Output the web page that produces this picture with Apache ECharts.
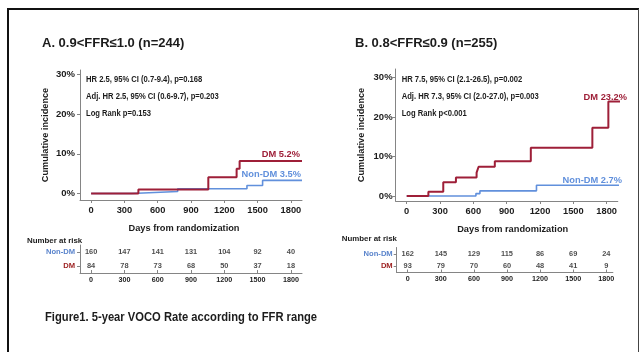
<!DOCTYPE html>
<html><head><meta charset="utf-8">
<script src="https://cdn.jsdelivr.net/npm/echarts@6/dist/echarts.min.js"></script>
<style>html,body{margin:0;padding:0;background:#fff}#c{width:639px;height:352px}</style>
</head><body><div id="c"></div>
<script>
// ---- data ----
const dayTicks = [0, 300, 600, 900, 1200, 1500, 1800];
const yTicks = [0, 10, 20, 30];
const groups = ['Non-DM', 'DM'];

const titleA = 'A. 0.9<FFR≤1.0 (n=244)';
const titleB = 'B. 0.8<FFR≤0.9 (n=255)';
const statsA = ['HR 2.5, 95% CI (0.7-9.4), p=0.168', 'Adj. HR 2.5, 95% CI (0.6-9.7), p=0.203', 'Log Rank p=0.153'];
const statsB = ['HR 7.5, 95% CI (2.1-26.5), p=0.002', 'Adj. HR 7.3, 95% CI (2.0-27.0), p=0.003', 'Log Rank p<0.001'];
const endLabelsA = ['DM 5.2%', 'Non-DM 3.5%'];
const endLabelsB = ['DM 23.2%', 'Non-DM 2.7%'];
const caption = 'Figure1. 5-year VOCO Rate according to FFR range';
const xName = 'Days from randomization';
const yName = 'Cumulative incidence';
const riskTitle = 'Number at risk';

// cumulative incidence step curves: [day, %]
const dmA = [[0, 0], [426, 1.0], [1056, 4.1], [1311, 6.2], [1338, 8.2], [1900, 8.2]];
const nonDmA = [[0, 0], [366, 0.5], [780, 1.2], [1404, 2.0], [1545, 3.3], [1900, 3.3]];
const dmB = [[0, 0], [195, 1.1], [329, 3.5], [443, 4.7], [629, 5.9], [647, 7.4], [793, 8.8], [1117, 12.2], [1671, 17.3], [1815, 23.9], [1930, 23.9]];
const nonDmB = [[0, 0], [623, 0.6], [659, 1.3], [1168, 2.7], [1930, 2.7]];

// numbers at risk
const riskNonDmA = [160, 147, 141, 131, 104, 92, 40];
const riskDmA = [84, 78, 73, 68, 50, 37, 18];
const riskNonDmB = [162, 145, 129, 115, 86, 69, 24];
const riskDmB = [93, 79, 70, 60, 48, 41, 9];

// ---- style ----
const FONT = '"Liberation Sans", Arial, sans-serif';
const RED = '#9e1f38', BLUE = '#6190dc', INK = '#1c1c1c', AX = '#858585';

function mainX(gi, max) {
  return {
    gridIndex: gi, type: 'value', min: -100, max: max,
    axisLine: { show: true, onZero: false, lineStyle: { color: AX, width: 1 } },
    splitLine: { show: false },
    axisTick: { show: true, customValues: dayTicks, length: 3, lineStyle: { color: AX } },
    axisLabel: { customValues: dayTicks, formatter: v => String(v), margin: 6, fontSize: 9.3, fontWeight: 'bold', color: INK, fontFamily: FONT }
  };
}
function mainY(gi, min, max, gap, margin) {
  return {
    gridIndex: gi, type: 'value', min: min, max: max,
    axisLine: { show: true, onZero: false, lineStyle: { color: AX, width: 1 } },
    splitLine: { show: false },
    axisTick: { show: true, customValues: yTicks, length: 3, lineStyle: { color: AX } },
    axisLabel: { customValues: yTicks, formatter: v => v + '%', margin: margin, fontSize: 9.5, fontWeight: 'bold', color: INK, fontFamily: FONT },
    name: yName, nameLocation: 'middle', nameGap: gap,
    nameTextStyle: { fontSize: 9.2, fontWeight: 'bold', color: INK, fontFamily: FONT }
  };
}
function riskX(gi, max) {
  return {
    gridIndex: gi, type: 'value', min: -100, max: max,
    axisLine: { show: true, onZero: false, lineStyle: { color: AX, width: 1 } },
    splitLine: { show: false },
    axisTick: { show: true, inside: true, customValues: dayTicks, length: 3, lineStyle: { color: AX } },
    axisLabel: { customValues: dayTicks, formatter: v => String(v), margin: 3.5, fontSize: 7.2, fontWeight: 'bold', color: INK, fontFamily: FONT }
  };
}
function riskY(gi, margin) {
  return {
    gridIndex: gi, type: 'category', data: groups, inverse: true,
    axisLine: { show: true, onZero: false, lineStyle: { color: AX, width: 1 } },
    axisTick: { show: true, alignWithLabel: true, interval: 0, length: 3, lineStyle: { color: AX } },
    splitLine: { show: false },
    axisLabel: {
      margin: margin, interval: 0,
      formatter: v => v === 'DM' ? '{d|' + v + '}' : '{n|' + v + '}',
      rich: {
        d: { color: '#9b1c1c', fontSize: 7.6, fontWeight: 'bold', fontFamily: FONT },
        n: { color: '#5a84cc', fontSize: 7.6, fontWeight: 'bold', fontFamily: FONT }
      }
    }
  };
}
function curve(xi, data, color, width, z) {
  return { type: 'line', xAxisIndex: xi, yAxisIndex: xi, step: 'end', data: data, showSymbol: false, symbol: 'none',
    lineStyle: { color: color, width: width }, itemStyle: { color: color }, silent: true, z: z, clip: false };
}
function riskSeries(xi, group, values) {
  return { type: 'scatter', xAxisIndex: xi, yAxisIndex: xi, symbolSize: 1, itemStyle: { color: 'rgba(0,0,0,0)' }, silent: true,
    data: dayTicks.map((d, i) => [d, group, values[i]]),
    label: { show: true, position: 'inside', formatter: p => String(p.value[2]), fontSize: 7.4, fontWeight: 'bold', color: INK, fontFamily: FONT } };
}
function txt(text, x, y, size, opts) {
  opts = opts || {};
  return { type: 'text', silent: true, z: 10, x: x, y: y, scaleX: opts.sx || 1,
    style: { text: text, x: 0, y: 0, fontSize: size, fontWeight: opts.weight || 'bold', fontFamily: FONT,
      fill: opts.color || INK, align: opts.align || 'left', verticalAlign: 'middle' } };
}
function ln(x1, y1, x2, y2, w, c) {
  return { type: 'line', silent: true, z: 10, shape: { x1: x1, y1: y1, x2: x2, y2: y2 }, style: { stroke: c || '#111', lineWidth: w } };
}

const graphics = [
  ln(8, 9, 639, 9, 2), ln(8, 8, 8, 352, 2), ln(638.5, 9, 638.5, 352, 1, '#444'),
  txt(titleA, 42, 43, 13), txt(titleB, 355, 43, 13),
  txt(endLabelsA[0], 300, 154, 9.3, { align: 'right', color: RED }),
  txt(endLabelsA[1], 301, 174, 9.3, { align: 'right', color: BLUE }),
  txt(endLabelsB[0], 627, 97, 9.3, { align: 'right', color: RED }),
  txt(endLabelsB[1], 622, 180, 9.3, { align: 'right', color: BLUE }),
  txt(xName, 184, 228.5, 9.25, { align: 'center' }),
  txt(xName, 512.7, 229.3, 9.25, { align: 'center' }),
  txt(riskTitle, 27, 240.7, 7.9), txt(riskTitle, 341.7, 239.3, 7.9),
  txt(caption, 45, 317, 13.5, { sx: 0.83 })
];
[79, 96, 113].forEach((y, i) => {
  graphics.push(txt(statsA[i], 86, y, 9.3, { sx: 0.82 }));
  graphics.push(txt(statsB[i], 401.7, y, 9.3, { sx: 0.82 }));
});

const chart = echarts.init(document.getElementById('c'), null, { renderer: 'canvas' });
chart.setOption({
  animation: false,
  backgroundColor: '#fff',
  grid: [
    { left: 80, top: 70, width: 222, height: 130 },
    { left: 395.6, top: 69, width: 222.2, height: 132 },
    { left: 80, top: 245, width: 222, height: 28 },
    { left: 396.7, top: 247.5, width: 216.2, height: 25 }
  ],
  xAxis: [mainX(0, 1900), mainX(1, 1900), riskX(2, 1900), riskX(3, 1860)],
  yAxis: [mainY(0, -1.64, 31.1, 30.5, 5), mainY(1, -1.27, 32.15, 30, 3), riskY(2, 5), riskY(3, 4)],
  series: [
    curve(0, nonDmA, BLUE, 1.6, 2), curve(0, dmA, RED, 2, 3),
    curve(1, nonDmB, BLUE, 1.6, 2), curve(1, dmB, RED, 2, 3),
    riskSeries(2, 'Non-DM', riskNonDmA), riskSeries(2, 'DM', riskDmA),
    riskSeries(3, 'Non-DM', riskNonDmB), riskSeries(3, 'DM', riskDmB)
  ],
  graphic: graphics
});
</script></body></html>
